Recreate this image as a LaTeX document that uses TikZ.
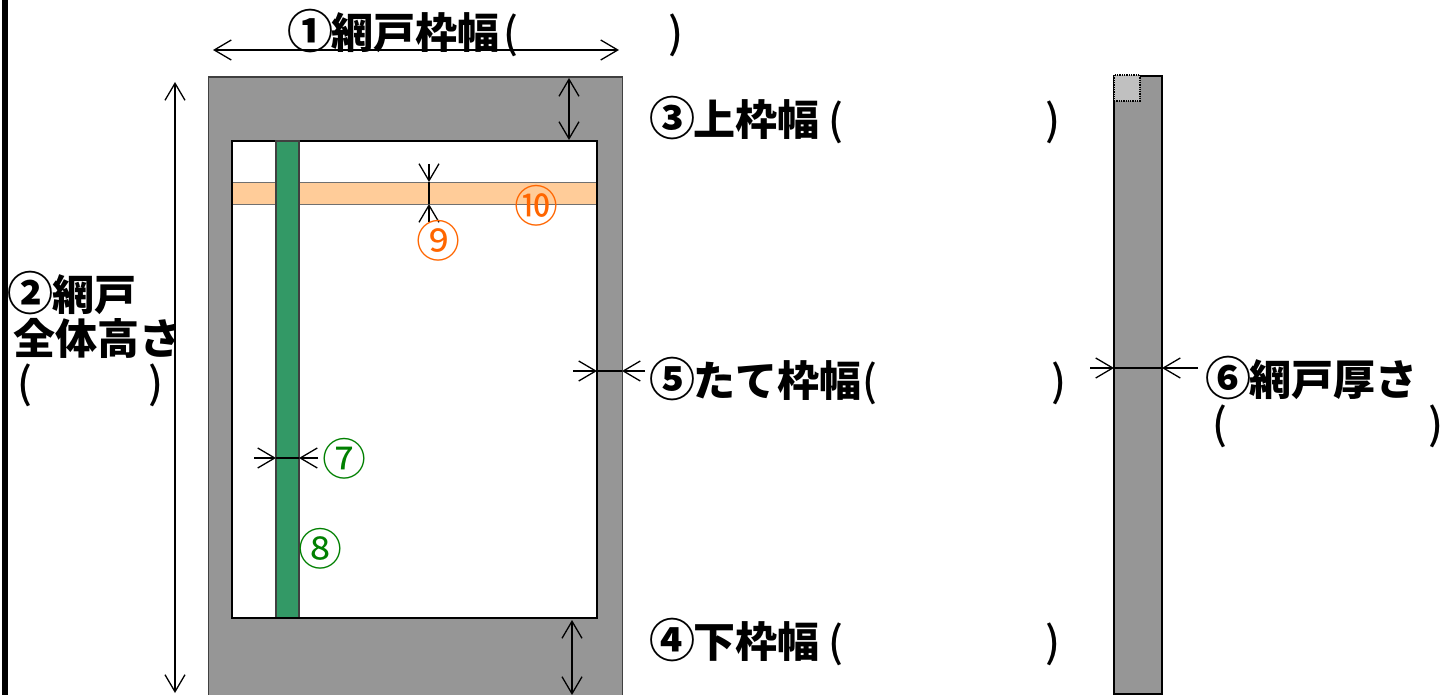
\documentclass[tikz,border=0pt]{standalone}
\usepackage{fontspec}
\newfontfamily\jpfont{Noto Sans CJK JP}
\newfontfamily\jpmed{Noto Sans CJK JP Medium}
\usepackage{tikz}
\usetikzlibrary{arrows.meta}
\newcommand{\cnum}[1]{\makebox[42pt]{\fontsize{46}{44}\selectfont #1}}
\newcommand{\lpar}[1]{\hspace{#1}{\jpmed\mdseries (}}
\newcommand{\rpar}[1]{\hspace{#1}{\jpmed\mdseries )}}

\begin{document}
\begin{tikzpicture}[x=1pt, y=-1pt, inner sep=0pt, outer sep=0pt]
    \tikzstyle{frame}=[rectangle, fill=gray1, draw=gray3, line width=1.5pt]
    \tikzstyle{opening}=[rectangle, fill=white, draw=black, line width=2.4pt]
    \tikzstyle{rail}=[rectangle, fill=green1, draw=gray3, line width=1.5pt]
    \tikzstyle{bar}=[rectangle, fill=orange1, draw=gray2, line width=1.5pt]
    \tikzstyle{edge}=[rectangle, fill=gray1, draw=black, line width=1.6pt]
    \tikzstyle{corner}=[rectangle, fill=gray4, draw=black, densely dotted, line width=1.3pt]
    \tikzstyle{dimA}=[<->, >={Straight Barb[length=17pt,width=20pt]}, line width=1.3pt]
    \tikzstyle{dimB}=[->, >={Straight Barb[length=17pt,width=20pt]}, line width=1.3pt]
    \tikzstyle{lab}=[anchor=west, font=\jpfont\bfseries\fontsize{42}{44}\selectfont, align=left, text=black]
    \tikzstyle{num}=[font=\jpfont\fontsize{44}{44}\selectfont]
    \definecolor{gray1}{HTML}{969696}
    \definecolor{gray2}{HTML}{707070}
    \definecolor{gray3}{HTML}{404040}
    \definecolor{gray4}{HTML}{C0C0C0}
    \definecolor{green1}{HTML}{339966}
    \definecolor{orange1}{HTML}{FFCC99}
    \definecolor{green2}{HTML}{008000}
    \definecolor{orange2}{HTML}{FF6600}

    \useasboundingbox (0,0) rectangle (1443,695);
    \clip (0,0) rectangle (1443,695);
    \fill[black] (2,0) rectangle (8,695);

    \node[frame, minimum width=414pt, minimum height=640pt] (outer) at (415.5,397) {};
    \node[opening, minimum width=365pt, minimum height=477pt] (inner) at (414.5,379.5) {};
    \node[bar, minimum width=365pt, minimum height=22pt] (cross) at (414.5,193.5) {};
    \node[rail, minimum width=23pt, minimum height=477pt] (post) at (287.5,379.5) {};
    \draw[black, line width=2.4pt] (inner.south west) -- (inner.south east);
    \draw[black, line width=2.4pt] (inner.north east) -- (inner.south east);
    \draw[black, line width=2.4pt] (inner.north west) -- (inner.south west);
    \node[edge, minimum width=48pt, minimum height=618pt] (side) at (1138,385) {};
    \node[corner, minimum width=26pt, minimum height=26pt] (cube) at (1127,88) {};

    \coordinate (w1) at (213,50);
    \coordinate (w2) at (619,50);
    \coordinate (h1) at (175,82);
    \coordinate (h2) at (175,693);
    \coordinate (t1) at (569,78);
    \coordinate (t2) at (569,140);
    \coordinate (b1) at (572,620);
    \coordinate (b2) at (572,695);
    \coordinate (s0) at (573,371);
    \coordinate (s1) at (597,371);
    \coordinate (s2) at (622,371);
    \coordinate (s3) at (645,371);
    \coordinate (d0) at (1090,368);
    \coordinate (d1) at (1114,368);
    \coordinate (d2) at (1162,368);
    \coordinate (d3) at (1198,368);
    \coordinate (p0) at (254,458);
    \coordinate (p1) at (276,458);
    \coordinate (p2) at (299,458);
    \coordinate (p3) at (318,458);
    \coordinate (c0) at (429,164);
    \coordinate (c1) at (429,182);
    \coordinate (c2) at (429,204);
    \coordinate (c3) at (429,222);

    \draw[dimA] (w1) -- (w2);
    \draw[dimA] (h1) -- (h2);
    \draw[dimA] (t1) -- (t2);
    \draw[dimA] (b1) -- (b2);
    \draw[dimB] (s0) -- (s1);
    \draw[dimB] (s3) -- (s2);
    \draw[line width=1.3pt] (s1) -- (s2);
    \draw[dimB] (d0) -- (d1);
    \draw[dimB] (d3) -- (d2);
    \draw[line width=1.3pt] (d1) -- (d2);
    \draw[dimB] (p0) -- (p1);
    \draw[dimB] (p3) -- (p2);
    \draw[line width=1.3pt] (p1) -- (p2);
    \draw[dimB] (c0) -- (c1);
    \draw[dimB] (c3) -- (c2);
    \draw[line width=1.3pt] (c1) -- (c2);

    \node[lab] (l1) at (289,33) {\cnum{①}網戸枠幅\lpar{4pt}\rpar{151pt}};
    \node[lab] (l2) at (10,339) {\cnum{②}網戸\\[0pt]\hspace{3pt}全体高さ\\[0pt]\lpar{7pt}\rpar{117pt}};
    \node[lab] (l3) at (651,120) {\cnum{③}上枠幅\lpar{9pt}\rpar{203pt}};
    \node[lab] (l4) at (651,642) {\cnum{④}下枠幅\lpar{9pt}\rpar{203pt}};
    \node[lab] (l5) at (651,381) {\cnum{⑤}たて枠幅\lpar{1pt}\rpar{175pt}};
    \node[lab] (l6) at (1207,402) {\cnum{⑥}網戸厚さ\\[0pt]\lpar{5pt}\rpar{202pt}};
    \node[num, text=green2] (n7) at (344,459) {⑦};
    \node[num, text=green2] (n8) at (320,549) {⑧};
    \node[num, text=orange2] (n9) at (438,241) {⑨};
    \node[num, text=orange2] (n10) at (536,206) {⑩};
\end{tikzpicture}
\end{document}
